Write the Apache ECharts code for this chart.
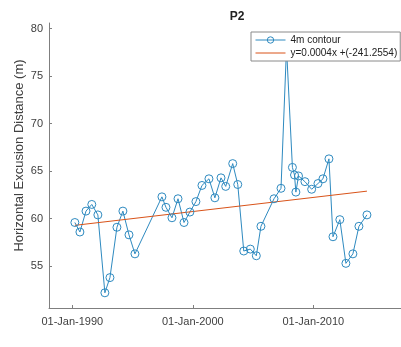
<!DOCTYPE html>
<html>
<head>
<meta charset="utf-8">
<script src="https://cdn.jsdelivr.net/npm/echarts@6/dist/echarts.min.js"></script>
<style>
  html, body { margin: 0; padding: 0; background: #fff; }
  #chart { width: 401px; height: 347px; }
</style>
</head>
<body>
<div id="chart"></div>
<script>
// survey dates
var dates = ['1990-03-20', '1990-08-20', '1991-02-20', '1991-08-15', '1992-02-15', '1992-09-15',
  '1993-02-15', '1993-09-15', '1994-03-15', '1994-09-15', '1995-03-15', '1997-06-10',
  '1997-10-10', '1998-04-10', '1998-10-10', '1999-04-10', '1999-10-05', '2000-04-05',
  '2000-10-05', '2001-05-05', '2001-11-01', '2002-05-05', '2002-09-25', '2003-04-25',
  '2003-09-25', '2004-03-25', '2004-10-10', '2005-04-10', '2005-08-28', '2006-09-28',
  '2007-04-28', '2007-10-12', '2008-04-08', '2008-06-10', '2008-07-22', '2008-10-10',
  '2009-04-22', '2009-11-12', '2010-05-22', '2010-10-20', '2011-04-20', '2011-08-20',
  '2012-03-15', '2012-09-15', '2013-04-15', '2013-10-15', '2014-06-15'];
var distance = [59.6, 58.6, 60.8, 61.5, 60.4, 52.2,
  53.8, 59.1, 60.8, 58.3, 56.3, 62.3,
  61.2, 60.1, 62.1, 59.6, 60.7, 61.8,
  63.5, 64.2, 62.2, 64.3, 63.4, 65.8,
  63.6, 56.6, 56.8, 56.1, 59.2, 62.1,
  63.2, 78.0, 65.4, 64.6, 62.8, 64.5,
  63.9, 63.1, 63.7, 64.2, 66.3, 58.1,
  59.9, 55.3, 56.3, 59.2, 60.4];
// linear fit, end points
var trendDates = ['1990-03-20', '2014-06-15'];
var trendValues = [59.3, 62.9];

var yTicks = [55, 60, 65, 70, 75, 80];
var xTickDates = ['1990-01-01', '2000-01-01', '2010-01-01'];
var xTickLabels = ['01-Jan-1990', '01-Jan-2000', '01-Jan-2010'];

var seriesName = '4m contour';
var trendName = 'y=0.0004x +(-241.2554)';

function ts(s) {
  var p = s.split('-');
  return Date.UTC(+p[0], +p[1] - 1, +p[2]);
}

var xTickValues = xTickDates.map(ts);

var chart = echarts.init(document.getElementById('chart'));

var axisGray = '#7f7f7f';
var labelGray = '#404040';
var blue = '#2e8ac0';
var orange = '#d95319';

var option = {
  animation: false,
  backgroundColor: '#fff',
  title: {
    text: 'P2',
    left: 232,
    top: 6,
    textAlign: 'center',
    textStyle: { fontFamily: 'Arial, Liberation Sans', fontSize: 12, fontWeight: 'bold', color: '#222' }
  },
  legend: {
    orient: 'vertical',
    left: 251,
    top: 32,
    padding: [3, 3, 3, 4],
    itemGap: 3,
    itemWidth: 30,
    itemHeight: 8,
    borderColor: '#8a8a8a',
    borderWidth: 1,
    backgroundColor: '#fff',
    lineStyle: { width: 1 },
    itemStyle: { borderWidth: 1 },
    textStyle: { fontFamily: 'Arial, Liberation Sans', fontSize: 10, color: '#222' },
    data: [
      { name: seriesName },
      { name: trendName, itemStyle: { opacity: 0 } }
    ],
    z: 10
  },
  grid: {
    left: 49,
    right: 0,
    top: 23,
    bottom: 39
  },
  xAxis: {
    type: 'value',
    min: ts('1988-01-26'),
    max: ts('2017-04-12'),
    splitLine: { show: false },
    axisLine: { lineStyle: { color: axisGray, width: 1 } },
    axisTick: { inside: true, length: 3, customValues: xTickValues, lineStyle: { color: axisGray } },
    axisLabel: {
      customValues: xTickValues,
      color: labelGray,
      fontFamily: 'Arial, Liberation Sans',
      fontSize: 11,
      margin: 8,
      formatter: function (v) {
        var i = xTickValues.indexOf(v);
        return i >= 0 ? xTickLabels[i] : '';
      }
    }
  },
  yAxis: {
    type: 'value',
    min: 50.6,
    max: 80.6,
    name: 'Horizontal Excusion Distance (m)',
    nameLocation: 'middle',
    nameGap: 23,
    nameMoveOverlap: false,
    nameTextStyle: {
      fontFamily: 'Arial, Liberation Sans',
      fontSize: 13,
      color: labelGray,
      padding: [0, 0, 0, 20]
    },
    splitLine: { show: false },
    axisLine: { show: true, lineStyle: { color: axisGray, width: 1 } },
    axisTick: { show: true, inside: true, length: 3, customValues: yTicks, lineStyle: { color: axisGray } },
    axisLabel: {
      customValues: yTicks,
      color: labelGray,
      fontFamily: 'Arial, Liberation Sans',
      fontSize: 11,
      margin: 6
    }
  },
  series: [{
    name: seriesName,
    type: 'line',
    data: dates.map(function (d, i) { return [ts(d), distance[i]]; }),
    symbol: 'circle',
    symbolSize: 8,
    showAllSymbol: true,
    color: blue,
    lineStyle: { width: 1, color: blue },
    itemStyle: { color: 'rgba(255,255,255,0)', borderWidth: 1, borderColor: blue }
  }, {
    name: trendName,
    type: 'line',
    data: trendDates.map(function (d, i) { return [ts(d), trendValues[i]]; }),
    symbol: 'none',
    color: orange,
    lineStyle: { width: 1, color: orange },
    z: 3
  }]
};

chart.setOption(option);
</script>
</body>
</html>
